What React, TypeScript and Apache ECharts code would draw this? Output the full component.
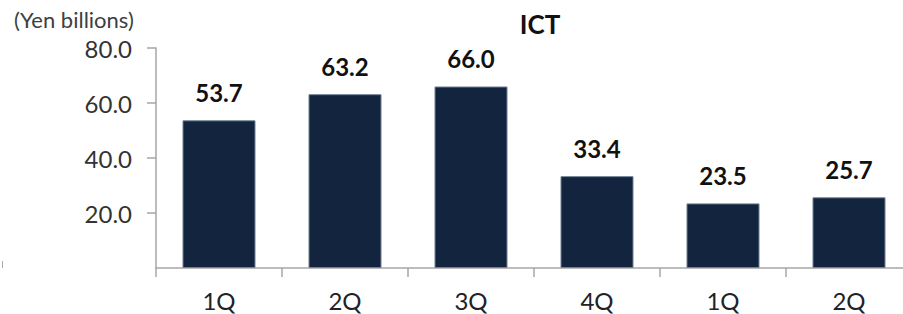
import React, { useEffect, useRef } from "react";
import * as echarts from "echarts";

const categories = ["1Q", "2Q", "3Q", "4Q", "1Q", "2Q"];
const values = [53.7, 63.2, 66.0, 33.4, 23.5, 25.7];
const yTicks = [0, 20, 40, 60, 80];
const title = "ICT";
const unitLabel = "(Yen billions)";

export default function App() {
  const ref = useRef<HTMLDivElement>(null);
  useEffect(() => {
    if (!ref.current) return;
    const chart = echarts.init(ref.current, null, { renderer: "svg" });
    const font = "Lato, 'Open Sans', sans-serif";
    chart.setOption({
      animation: false,
      backgroundColor: "#ffffff",
      title: {
        text: title,
        left: 535,
        top: 6,
        textAlign: "center",
        textStyle: { fontFamily: font, fontSize: 26, fontWeight: "bold", color: "#111" },
      },
      graphic: [
        {
          type: "text",
          left: 14,
          top: 8,
          style: { text: unitLabel, fontFamily: font, fontSize: 22, fill: "#404040" },
        },
        {
          type: "line",
          shape: { x1: 2.5, y1: 261, x2: 2.5, y2: 268 },
          style: { stroke: "#aaaaaa", lineWidth: 1 },
        },
      ],
      grid: { left: 156, top: 48, width: 756, height: 220, outerBoundsMode: "none" },
      xAxis: {
        type: "category",
        data: categories,
        boundaryGap: true,
        axisLine: { lineStyle: { color: "#a6a6a6", width: 1.5 } },
        axisTick: { show: true, length: 9, lineStyle: { color: "#a6a6a6", width: 1.5 } },
        axisLabel: { fontFamily: font, fontSize: 24, color: "#222", margin: 20 },
      },
      yAxis: {
        type: "value",
        min: yTicks[0],
        max: yTicks[yTicks.length - 1],
        interval: 20,
        splitLine: { show: false },
        axisLine: { show: true, lineStyle: { color: "#a6a6a6", width: 1.5 } },
        axisTick: { show: true, length: 9, lineStyle: { color: "#a6a6a6", width: 1.5 } },
        axisLabel: {
          fontFamily: font,
          fontSize: 24,
          color: "#333",
          margin: 24,
          showMinLabel: false,
          formatter: (v: number) => (v === 0 ? "" : v.toFixed(1)),
        },
      },
      series: [
        {
          type: "bar",
          data: values,
          barWidth: 73,
          itemStyle: { color: "#13243f", borderColor: "#6f7f95", borderWidth: 1 },
          label: {
            show: true,
            position: "top",
            distance: 16,
            fontFamily: font,
            fontSize: 24,
            fontWeight: "bold",
            color: "#111",
            formatter: (p: any) => Number(p.value).toFixed(1),
          },
        },
      ],
    });
    return () => chart.dispose();
  }, []);
  return (
    <div
      ref={ref}
      style={{ position: "fixed", left: 0, top: 0, width: 903, height: 314 }}
    />
  );
}
